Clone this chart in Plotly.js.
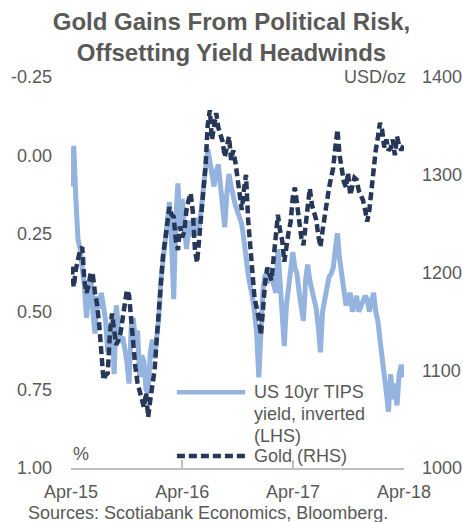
<!DOCTYPE html>
<html>
<head>
<meta charset="utf-8">
<script src="https://cdn.plot.ly/plotly-3.0.1.min.js"></script>
<style>
  html, body { margin: 0; padding: 0; background: #ffffff; }
  #chart { width: 463px; height: 522px; }
</style>
</head>
<body>
<div id="chart"></div>
<script>
// Weekly observations, first Friday of April 2015 onward
const startDate = '2015-04-03';
const weekCount = 157;

// US 10-year TIPS real yield, % (plotted on a reversed axis)
const tipsYield = [
  0.10, -0.03, 0.14, 0.27, 0.30, 0.36, 0.42, 0.52, 0.44, 0.38,
  0.50, 0.57, 0.45, 0.49, 0.44, 0.48, 0.53, 0.63, 0.57, 0.53,
  0.70, 0.48, 0.55, 0.60, 0.58, 0.62, 0.66, 0.73, 0.55, 0.52,
  0.60, 0.56, 0.71, 0.64, 0.66, 0.75, 0.76, 0.63, 0.59, 0.65,
  0.58, 0.52, 0.40, 0.33, 0.27, 0.23, 0.15, 0.28, 0.46, 0.20,
  0.09, 0.24, 0.14, 0.22, 0.30, 0.24, 0.21, 0.26, 0.25, 0.20,
  0.23, 0.17, 0.08, 0.04, -0.02, 0.03, 0.06, 0.10, 0.05, 0.03,
  0.10, 0.14, 0.23, 0.12, 0.06, 0.10, 0.14, 0.16, 0.18, 0.20,
  0.22, 0.27, 0.34, 0.38, 0.42, 0.45, 0.50, 0.57, 0.71, 0.56,
  0.43, 0.38, 0.41, 0.36, 0.39, 0.42, 0.44, 0.30, 0.40, 0.55,
  0.61, 0.48, 0.42, 0.39, 0.31, 0.36, 0.38, 0.44, 0.48, 0.53,
  0.40, 0.35, 0.40, 0.43, 0.45, 0.49, 0.55, 0.63, 0.50, 0.46,
  0.42, 0.39, 0.38, 0.36, 0.30, 0.25, 0.33, 0.40, 0.43, 0.48,
  0.46, 0.44, 0.50, 0.47, 0.45, 0.50, 0.48, 0.47, 0.45, 0.46,
  0.50, 0.47, 0.44, 0.50, 0.53, 0.59, 0.66, 0.70, 0.76, 0.82,
  0.70, 0.78, 0.73, 0.80, 0.70, 0.67, 0.71
];

// Gold spot price, USD/oz
const goldPrice = [
  1206, 1185, 1203, 1213, 1223, 1226, 1192, 1179, 1187, 1200,
  1197, 1179, 1167, 1146, 1110, 1090, 1095, 1097, 1138, 1158,
  1141, 1126, 1131, 1138, 1153, 1167, 1182, 1177, 1151, 1131,
  1103, 1087, 1077, 1070, 1062, 1077, 1052, 1070, 1085, 1100,
  1131, 1162, 1203, 1218, 1233, 1249, 1267, 1259, 1257, 1233,
  1223, 1247, 1236, 1242, 1264, 1274, 1281, 1262, 1223, 1210,
  1236, 1259, 1281, 1310, 1351, 1366, 1336, 1349, 1363, 1348,
  1341, 1334, 1318, 1330, 1339, 1315, 1325, 1313, 1297, 1281,
  1264, 1284, 1300, 1254, 1223, 1192, 1174, 1164, 1153, 1136,
  1167, 1190, 1205, 1197, 1192, 1215, 1243, 1259, 1243, 1233,
  1211, 1228, 1241, 1252, 1277, 1287, 1269, 1249, 1236, 1228,
  1249, 1269, 1286, 1269, 1262, 1254, 1238, 1226, 1243, 1259,
  1274, 1286, 1297, 1307, 1328, 1346, 1320, 1303, 1293, 1287,
  1302, 1279, 1287, 1297, 1295, 1284, 1279, 1274, 1264, 1252,
  1264, 1286, 1305, 1325, 1338, 1353, 1346, 1328, 1336, 1325,
  1327, 1336, 1320, 1339, 1330, 1325, 1330
];

// x-axis ticks
const tickDates = ['2015-04-01', '2016-04-01', '2017-04-01', '2018-04-01'];
const tickLabels = ['Apr-15', 'Apr-16', 'Apr-17', 'Apr-18'];

// left (%) and right (USD/oz) axis ticks
const leftTicks = [-0.25, 0.00, 0.25, 0.50, 0.75, 1.00];
const leftTickLabels = ['-0.25', '0.00', '0.25', '0.50', '0.75', '1.00'];
const rightTicks = [1000, 1100, 1200, 1300, 1400];

// legend entries
const tipsName = ['US 10yr TIPS', 'yield, inverted', '(LHS)'];
const goldName = 'Gold (RHS)';

function weeklyDates(start, n) {
  const out = [];
  const d0 = new Date(start + 'T00:00:00Z');
  for (let i = 0; i < n; i++) {
    const d = new Date(d0.getTime() + i * 7 * 86400000);
    out.push(d.toISOString().slice(0, 10));
  }
  return out;
}
const dates = weeklyDates(startDate, weekCount);

const TEXT = '#595959';
const LIGHT = '#95b3df';
const NAVY = '#263758';
const AXIS = '#bfbfbf';
const FONT = 'Arial, "Liberation Sans", sans-serif';

const traces = [
  {
    x: dates, y: tipsYield, yaxis: 'y', type: 'scatter', mode: 'lines',
    name: tipsName.join(' '), showlegend: false,
    line: { color: LIGHT, width: 5 }
  },
  {
    x: dates, y: goldPrice, yaxis: 'y2', type: 'scatter', mode: 'lines',
    name: goldName, showlegend: false,
    line: { color: NAVY, width: 4.5, dash: '8px,4px' }
  }
];

// hand-built legend: sample lines + labels in paper space
const legendShapes = [
  { type: 'line', xref: 'paper', yref: 'paper', x0: 0.318, x1: 0.523, y0: 0.194, y1: 0.194,
    line: { color: LIGHT, width: 4.5 } },
  { type: 'line', xref: 'paper', yref: 'paper', x0: 0.318, x1: 0.523, y0: 0.031, y1: 0.031,
    line: { color: NAVY, width: 4.5, dash: '8px,4px' } }
];

const lab = (text, x, y, anchor, size) => ({
  text: text, xref: 'paper', yref: 'paper', x: x, y: y,
  xanchor: anchor || 'left', yanchor: 'middle', showarrow: false,
  font: { family: FONT, size: size || 18, color: TEXT }
});

const annotations = [
  lab(tipsName[0], 0.543, 0.194),
  lab(tipsName[1], 0.543, 0.138),
  lab(tipsName[2], 0.543, 0.082),
  lab(goldName, 0.543, 0.031),
  lab('%', 0.0, 0.036),
  lab('USD/oz', 1.012, 1.0, 'right'),
  {
    text: 'Sources: Scotiabank Economics, Bloomberg.', xref: 'paper', yref: 'paper',
    x: -0.135, y: -0.115, xanchor: 'left', yanchor: 'middle', showarrow: false,
    font: { family: FONT, size: 18, color: TEXT }
  }
];

const layout = {
  width: 463, height: 522,
  margin: { l: 71, r: 59, t: 77, b: 54, pad: 0 },
  paper_bgcolor: '#ffffff', plot_bgcolor: '#ffffff',
  font: { family: FONT, size: 18, color: TEXT },
  showlegend: false,
  title: {
    text: '<b>Gold Gains From Political Risk,<br>Offsetting Yield Headwinds</b>',
    xref: 'container', x: 0.5, xanchor: 'center',
    yref: 'container', y: 0.942, yanchor: 'top',
    font: { family: FONT, size: 24, color: TEXT }
  },
  xaxis: {
    type: 'date',
    range: ['2015-04-01', '2018-04-01'],
    tickmode: 'array', tickvals: tickDates, ticktext: tickLabels,
    ticks: 'inside', ticklen: 8, tickwidth: 2, tickcolor: AXIS,
    showline: true, linecolor: AXIS, linewidth: 2,
    showgrid: false, zeroline: false,
    tickfont: { family: FONT, size: 18, color: TEXT },
    ticklabelstandoff: 6
  },
  yaxis: {
    range: [1.0, -0.25],
    tickmode: 'array', tickvals: leftTicks, ticktext: leftTickLabels,
    showgrid: false, zeroline: false, showline: false, ticks: '',
    tickfont: { family: FONT, size: 18, color: TEXT },
    ticklabelstandoff: 18
  },
  yaxis2: {
    overlaying: 'y', side: 'right',
    range: [1000, 1400],
    tickmode: 'array', tickvals: rightTicks,
    showgrid: false, zeroline: false, showline: false, ticks: '',
    tickfont: { family: FONT, size: 18, color: TEXT },
    ticklabelstandoff: 17
  },
  shapes: legendShapes,
  annotations: annotations
};

Plotly.newPlot('chart', traces, layout, { staticPlot: true, displayModeBar: false });
</script>
</body>
</html>
